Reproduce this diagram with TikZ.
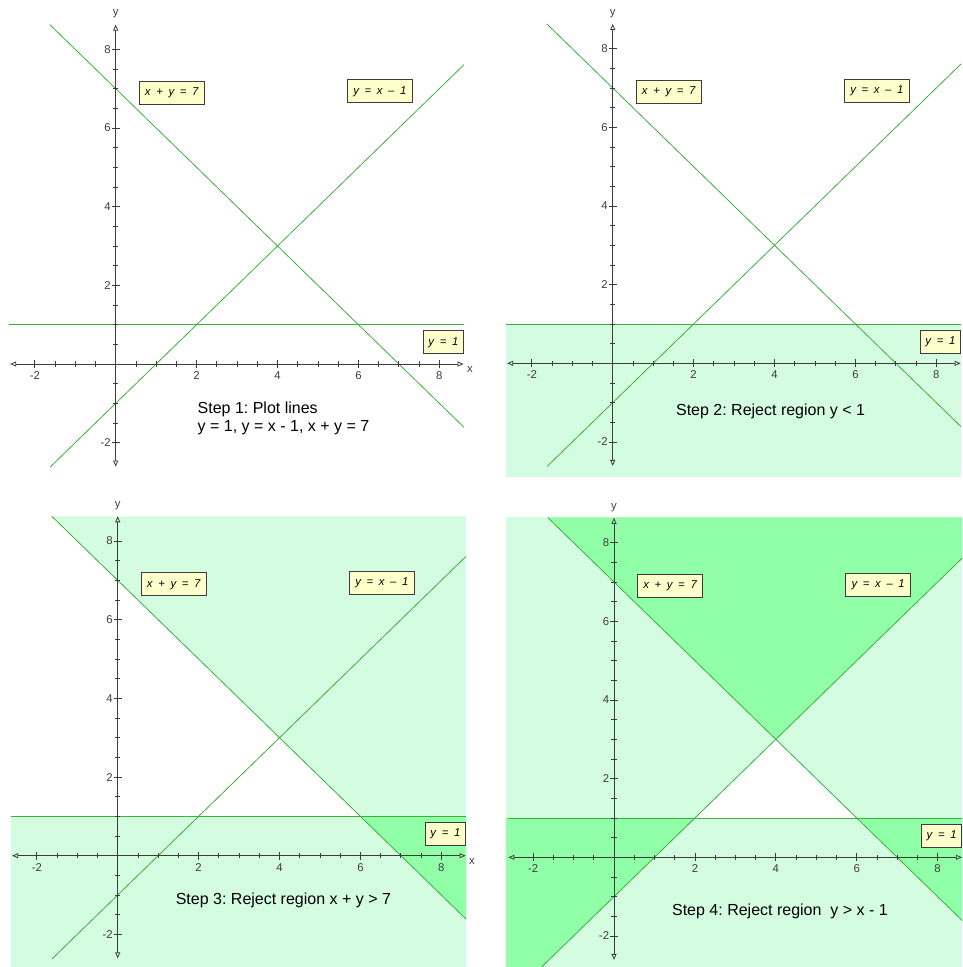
\documentclass[tikz,border=0pt]{standalone}
\usepackage{fontspec}
\setmainfont{Liberation Sans}
\usetikzlibrary{arrows.meta}
\frenchspacing

\definecolor{lightshade}{RGB}{212,252,224}
\definecolor{darkshade}{RGB}{145,255,168}
\definecolor{linegreen}{RGB}{60,175,60}
\definecolor{axisgray}{RGB}{60,60,60}
\definecolor{boxfill}{RGB}{255,255,204}

\tikzset{
  axis/.style={axisgray, line width=0.6pt},
  axarrows/.style={{Triangle[open,length=4.5pt,width=3.75pt]}-{Triangle[open,length=4.5pt,width=3.75pt]}},
  gline/.style={linegreen, line width=0.6pt},
  eqbox/.style={draw=axisgray, line width=0.75pt, fill=boxfill, inner sep=0pt,
    minimum height=17.25pt, font=\fontsize{8.5}{9}\selectfont\itshape},
  ticklab/.style={axisgray, font=\fontsize{8.5}{9}\selectfont, inner sep=0pt},
  steptext/.style={font=\fontsize{12}{13.7}\selectfont, align=left, inner sep=0pt, anchor=base west}
}

\newcommand{\eqgap}{\hspace{0.5em}}

% one set of axes, lines and equation boxes (panel units)
% #1: the x axis name, or nothing where it falls off the page
\newcommand{\drawgraph}[1]{%
  \draw[gline] (-1.63,8.63) -- (8.61,-1.61);  % x + y = 7
  \draw[gline] (-1.62,-2.62) -- (8.61,7.61);  % y = x - 1
  \draw[gline] (-2.63,1) -- (8.61,1);         % y = 1
  \draw[axis,axarrows] (-2.61,0) -- (8.6,0);
  \draw[axis,axarrows] (0,-2.61) -- (0,8.63);
  \foreach \t in {-2,-1.5,...,8} {
    \draw[axis] (\t,0) ++(0pt,-1.9pt) -- ++(0pt,3.8pt);
    \draw[axis] (0,\t) ++(-1.9pt,0pt) -- ++(3.8pt,0pt);
  }
  \foreach \t in {-2,2,4,6,8} {
    \draw[axis] (\t,0) ++(0pt,-3pt) -- ++(0pt,6pt);
    \draw[axis] (0,\t) ++(-3pt,0pt) -- ++(6pt,0pt);
    \node[ticklab, below=5.5pt] (xl\t) at (\t,0) {\t};
    \node[ticklab, left=3.5pt] (yl\t) at (0,\t) {\t};
  }
  #1
  \node[ticklab] (yname) at (0,8.9) {y};
  \node[eqbox, minimum width=48.5pt] (eqa) at (1.385,6.90) {x\eqgap+\eqgap y\eqgap=\eqgap 7};
  \node[eqbox, minimum width=48.5pt] (eqb) at (6.53,6.93) {y\eqgap=\eqgap x\eqgap--\eqgap 1};
  \node[eqbox, minimum width=30pt] (eqc) at (8.10,0.547) {y\eqgap=\eqgap 1};
}

\begin{document}
\begin{tikzpicture}[x=0.75pt,y=-0.75pt]
\useasboundingbox (0,0) rectangle (963,967);

% Step 1
\begin{scope}[shift={(115.7,364)}, x=30.34pt, y=29.5pt, name prefix=p1-]
  \drawgraph{\node[ticklab] (xname) at (8.76,-0.15) {x};}
  \node[steptext] (step) at (2.02,-1.72) {Step 1: Plot lines\\y = 1, y = x - 1, x + y = 7};
\end{scope}

% Step 2
\begin{scope}[shift={(612.7,363.3)}, x=30.34pt, y=29.5pt, name prefix=p2-]
  \fill[lightshade] (-2.64,-2.9) rectangle (8.61,1);
  \drawgraph{}
  \node[steptext] (step) at (1.56,-1.33) {Step 2: Reject region y < 1};
\end{scope}

% Step 3
\begin{scope}[shift={(117.7,855.7)}, x=30.34pt, y=29.5pt, name prefix=p3-]
  \fill[lightshade] (-2.64,-2.83) rectangle (8.61,1);
  \fill[lightshade] (-1.63,8.63) -- (8.61,8.63) -- (8.61,-1.61) -- cycle;
  \fill[darkshade] (6,1) -- (8.61,1) -- (8.61,-1.61) -- cycle;
  \drawgraph{\node[ticklab] (xname) at (8.76,-0.15) {x};}
  \node[steptext] (step) at (1.43,-1.25) {Step 3: Reject region x + y > 7};
\end{scope}

% Step 4
\begin{scope}[shift={(614,857.3)}, x=30.34pt, y=29.5pt, name prefix=p4-]
  \fill[lightshade] (-2.67,-2.79) rectangle (8.61,8.64);
  \fill[white] (2,1) -- (4,3) -- (6,1) -- cycle;
  \fill[darkshade] (-1.64,8.64) -- (8.61,8.64) -- (8.61,7.61) -- (4,3) -- cycle;
  \fill[darkshade] (-2.67,1) -- (2,1) -- (-1.79,-2.79) -- (-2.67,-2.79) -- cycle;
  \fill[darkshade] (6,1) -- (8.61,1) -- (8.61,-1.61) -- cycle;
  \drawgraph{}
  \draw[gline] (-1.79,-2.79) -- (-1.62,-2.62);
  \node[steptext] (step) at (1.43,-1.47) {Step 4: Reject region\ \ y > x - 1};
\end{scope}
\end{tikzpicture}
\end{document}
